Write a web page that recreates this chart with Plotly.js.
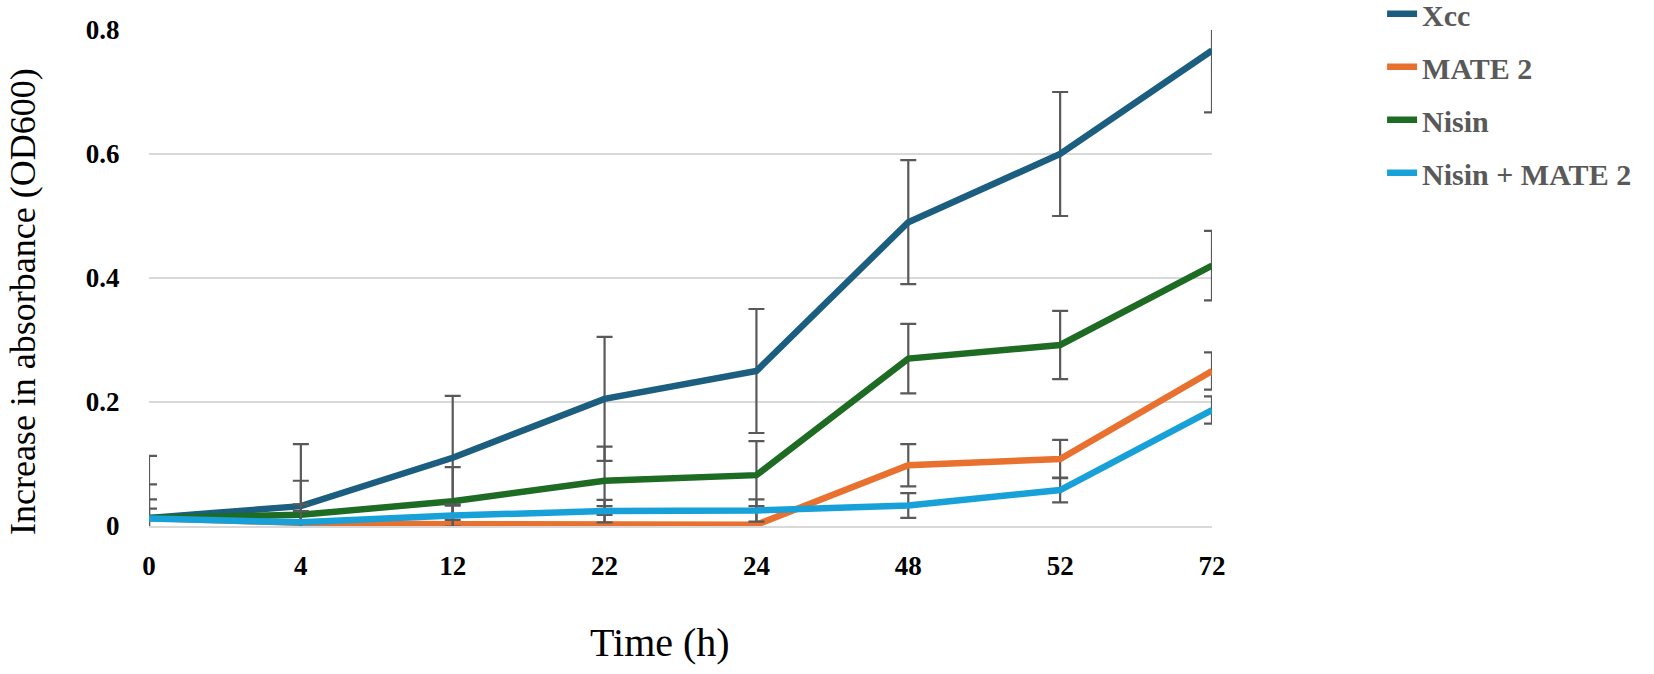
<!DOCTYPE html>
<html>
<head>
<meta charset="utf-8">
<script src="https://cdn.plot.ly/plotly-3.0.1.min.js"></script>
<style>html,body{margin:0;padding:0;background:#fff}#chart{width:1654px;height:674px}</style>
</head>
<body>
<div id="chart"></div>
<script>
const timeLabels = ["0", "4", "12", "22", "24", "48", "52", "72"];

const seriesNames = ["Xcc", "MATE 2", "Nisin", "Nisin + MATE 2"];

const xccValues   = [0.013, 0.032, 0.110, 0.205, 0.250, 0.490, 0.600, 0.767];
const xccErrors   = [0.100, 0.100, 0.100, 0.100, 0.100, 0.100, 0.100, 0.100];

const mateValues  = [0.013, 0.005, 0.003, 0.002, 0.002, 0.098, 0.108, 0.250];
const mateErrors  = [0.030, 0.030, 0.030, 0.030, 0.030, 0.034, 0.031, 0.030];

const nisinValues = [0.013, 0.018, 0.040, 0.073, 0.082, 0.270, 0.292, 0.420];
const nisinErrors = [0.054, 0.055, 0.055, 0.055, 0.055, 0.056, 0.055, 0.056];

const comboValues = [0.012, 0.006, 0.017, 0.024, 0.025, 0.033, 0.058, 0.187];
const comboErrors = [0.016, 0.018, 0.018, 0.018, 0.018, 0.020, 0.020, 0.022];

const yTickVals = [0, 0.2, 0.4, 0.6, 0.8];
const yTickText = ["0", "0.2", "0.4", "0.6", "0.8"];

const xTitle = "Time (h)";
const yTitle = "Increase in absorbance (OD600)";

const colors = ["#1b5e80", "#e9712f", "#1e6b24", "#18a1d9"];
const values = [xccValues, mateValues, nisinValues, comboValues];
const errors = [xccErrors, mateErrors, nisinErrors, comboErrors];

const traces = seriesNames.map((name, i) => ({
  type: "scatter",
  mode: "lines",
  name: name,
  legendgroup: "g" + i,
  x: timeLabels,
  y: values[i],
  line: {color: colors[i], width: 6.5},
  error_y: {type: "data", array: errors[i], visible: true, color: "#595959", thickness: 2.2, width: 8}
}));

const serif = "Liberation Serif, Times New Roman, serif";

const layout = {
  width: 1654,
  height: 674,
  paper_bgcolor: "#ffffff",
  plot_bgcolor: "#ffffff",
  margin: {l: 149, r: 442, t: 30, b: 148, autoexpand: false},
  showlegend: true,
  legend: {
    x: 1.160, y: 1.085, xanchor: "left", yanchor: "top",
    font: {family: serif, size: 30, color: "#595959", weight: "bold"},
    traceorder: "grouped",
    tracegroupgap: 11,
    bgcolor: "rgba(0,0,0,0)"
  },
  xaxis: {
    type: "category",
    range: [0, 7],
    showgrid: false,
    showline: true,
    linecolor: "#d9d9d9",
    linewidth: 2,
    ticks: "outside",
    ticklen: 15,
    tickcolor: "rgba(0,0,0,0)",
    tickfont: {family: serif, size: 27, color: "#000000", weight: "bold"},
    automargin: false,
    zeroline: false
  },
  yaxis: {
    range: [0, 0.8],
    tickvals: yTickVals,
    ticktext: yTickText,
    showgrid: true,
    gridcolor: "#d9d9d9",
    gridwidth: 2,
    zeroline: false,
    showline: false,
    ticks: "outside",
    ticklen: 23,
    tickcolor: "rgba(0,0,0,0)",
    tickfont: {family: serif, size: 27, color: "#000000", weight: "bold"},
    automargin: false
  },
  annotations: [
    {text: xTitle, xref: "paper", yref: "paper", x: 0.4807, y: -0.234,
     xanchor: "center", yanchor: "middle", showarrow: false,
     font: {family: serif, size: 40, color: "#000000"}},
    {text: yTitle, xref: "paper", yref: "paper", x: -0.1185, y: 0.4516,
     xanchor: "center", yanchor: "middle", showarrow: false, textangle: -90,
     font: {family: serif, size: 36, color: "#000000"}}
  ]
};

Plotly.newPlot("chart", traces, layout, {displayModeBar: false, staticPlot: true});
</script>
</body>
</html>
